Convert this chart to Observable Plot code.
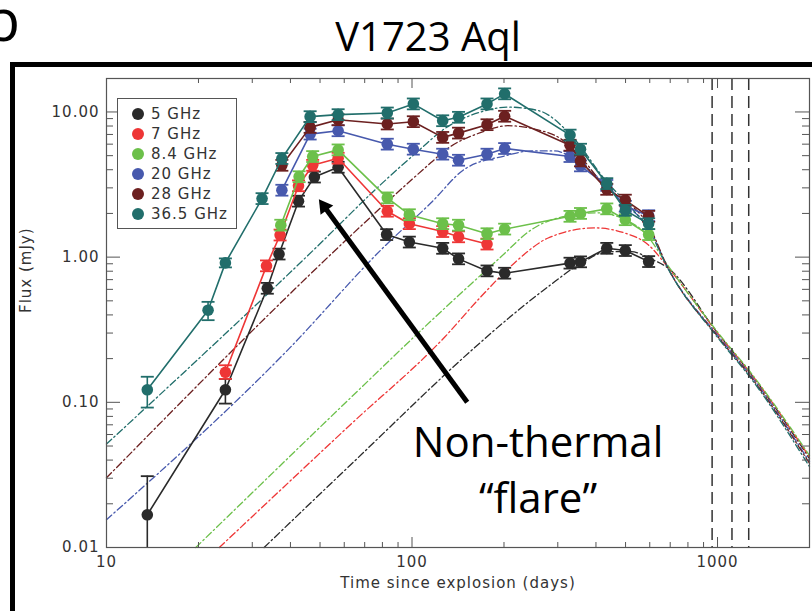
<!DOCTYPE html>
<html>
<head>
<meta charset="utf-8">
<script src="https://cdn.jsdelivr.net/npm/d3@7"></script>
<script src="https://cdn.jsdelivr.net/npm/@observablehq/plot@0.6"></script>
<style>
html, body { margin: 0; padding: 0; background: #fff; width: 812px; height: 611px; overflow: hidden; }
#wrap { position: relative; width: 812px; height: 611px; overflow: hidden; }
#slide { position: absolute; left: 10px; top: 62px; width: 900px; height: 700px; border-left: 5px solid #000; border-top: 5px solid #000; }
#chart { position: absolute; left: 0; top: 0; }
#title { position: absolute; left: 228px; top: 16px; width: 400px; text-align: center; font-family: 'Open Sans', sans-serif; font-size: 40px; line-height: 40px; color: #000; }
#panel { position: absolute; left: -16px; top: -11px; font-family: 'Open Sans', sans-serif; font-size: 59px; line-height: 59px; color: #000; }
#note { position: absolute; left: 388px; top: 413px; width: 300px; text-align: center; font-family: 'Open Sans', sans-serif; font-size: 42px; line-height: 56px; color: #000; }
#legend { position: absolute; left: 117px; top: 98px; width: 118px; height: 129px; border: 1px solid #555; background: #fff; font-family: 'DejaVu Sans', sans-serif; font-size: 15px; letter-spacing: 1px; color: #333; }
.lrow { position: absolute; left: 0; height: 20px; width: 118px; }
.ldot { position: absolute; left: 14px; top: 4px; width: 12px; height: 12px; border-radius: 50%; }
.ltxt { position: absolute; left: 33px; top: 0; line-height: 20px; }
</style>
</head>
<body>
<div id="wrap">
  <div id="panel">b</div>
  <div id="slide"></div>
  <div id="chart"></div>
  <div id="title">V1723 Aql</div>
  <div id="legend"></div>
  <div id="note">Non-thermal<br>“flare”</div>
</div>
<script>
// ---- categories and colours ----
const frequencies = ["5 GHz", "7 GHz", "8.4 GHz", "20 GHz", "28 GHz", "36.5 GHz"];
const colors = ["#2a2a2a", "#ee3636", "#6cc04a", "#4759ad", "#6c2020", "#216e6b"];

// ---- measured fluxes (days, mJy) ----
const t5  = [13.6, 24.5, 33.6, 36.7, 42.5, 47.9, 57.3, 82.6, 98, 126, 142, 176, 201, 329, 356, 434, 499, 595];
const f5  = [0.0168, 0.122, 0.610, 1.05, 2.43, 3.56, 4.16, 1.43, 1.27, 1.15, 0.973, 0.804, 0.775, 0.909, 0.928, 1.15, 1.11, 0.932];
const t7  = [24.5, 33.4, 37.0, 42.5, 47.3, 57.3, 83, 98, 126, 142, 176];
const f7  = [0.161, 0.871, 1.42, 3.10, 4.29, 4.80, 2.07, 1.70, 1.50, 1.38, 1.23];
const t8  = [37.2, 42.7, 47.3, 57.3, 83, 98, 126, 142, 176, 201, 329, 356, 434, 499, 595];
const f8  = [1.66, 3.58, 4.93, 5.48, 2.56, 1.96, 1.70, 1.66, 1.45, 1.56, 1.91, 2.00, 2.15, 1.81, 1.43];
const t20 = [37.5, 46.4, 57.3, 83, 101, 126, 142, 176, 201, 329, 356, 434, 499, 595];
const f20 = [2.89, 7.04, 7.42, 6.00, 5.54, 5.12, 4.65, 5.12, 5.60, 4.93, 4.25, 3.12, 2.24, 1.93];
const t28 = [37.5, 46.4, 57.3, 83, 101, 126, 142, 176, 201, 329, 356, 434, 499, 595];
const f28 = [4.29, 7.83, 8.84, 8.26, 8.57, 6.68, 7.15, 8.17, 9.34, 5.90, 4.60, 2.93, 2.47, 1.91];
const t36 = [13.6, 21.5, 24.5, 32.3, 37.5, 46.4, 57.3, 83, 101, 126, 142, 176, 201, 329, 356, 434, 499, 595];
const f36 = [0.122, 0.431, 0.913, 2.53, 4.78, 9.28, 9.58, 9.84, 11.36, 8.70, 9.19, 11.36, 13.33, 6.93, 5.54, 3.21, 2.10, 1.70];

// ---- large error bars (others are small) ----
const bigErrFreq = ["36.5 GHz", "36.5 GHz", "36.5 GHz", "7 GHz", "5 GHz", "5 GHz"];
const bigErrT    = [13.6, 21.5, 24.5, 24.5, 24.5, 13.6];
const bigErrLo   = [0.092, 0.368, 0.85, 0.145, 0.098, 0.01];
const bigErrHi   = [0.150, 0.492, 0.98, 0.180, 0.145, 0.031];
const smallErr = 1.09;

// ---- thermal model curves (dash-dot) ----
const modelT5  = [32.8, 63.1, 168, 216, 279, 358, 438, 522, 600, 689, 1000, 1300, 2000];
const modelF5  = [0.01, 0.0373, 0.260, 0.409, 0.626, 0.909, 1.09, 1.09, 0.98, 0.84, 0.30, 0.152, 0.041];
const modelT7  = [23.4, 63.1, 128, 168, 216, 279, 396, 497, 593, 689, 1000, 1300, 2000];
const modelF7  = [0.01, 0.0707, 0.282, 0.533, 0.909, 1.355, 1.59, 1.466, 1.217, 0.85, 0.30, 0.153, 0.042];
const modelT8  = [19.6, 63.1, 107, 196, 246, 316, 406, 484, 578, 689, 1000, 1300, 2000];
const modelF8  = [0.01, 0.108, 0.313, 1.01, 1.546, 1.91, 2.02, 1.86, 1.47, 0.87, 0.305, 0.155, 0.043];
const modelT20 = [10, 39.1, 81.2, 115.4, 148.5, 201, 246, 293, 330, 434, 499, 595, 689, 1000, 1300, 2000];
const modelF20 = [0.01553, 0.228, 1.184, 2.367, 4.03, 4.98, 5.39, 5.39, 4.95, 3.1, 2.3, 1.6, 0.84, 0.29, 0.148, 0.039];
const modelT28 = [10, 115.4, 127.6, 168.3, 206, 252, 308, 356, 434, 520, 595, 689, 1000, 1300, 2000];
const modelF28 = [0.0302, 4.48, 5.39, 7.23, 8.04, 7.62, 6.50, 4.9, 3.0, 2.3, 1.65, 0.84, 0.285, 0.145, 0.038];
const modelT36 = [10, 47.7, 79.1, 107, 126, 168, 206, 260, 330, 434, 520, 595, 689, 1000, 1300, 2000];
const modelF36 = [0.0516, 1.124, 3.17, 5.6, 7.5, 10.0, 10.8, 10.2, 7.0, 3.3, 2.2, 1.55, 0.83, 0.28, 0.142, 0.036];

// ---- observation epochs (vertical dashed lines) ----
const epochs = [960, 1115, 1265];

// ---- annotation arrow (days, mJy) ----
const arrowTail = [151.6, 0.100];
const arrowHead = [51.6, 2.234];

// ---- ticks ----
const xMajor = [10, 100, 1000];
const xMinor = [20, 30, 40, 50, 60, 70, 80, 90, 200, 300, 400, 500, 600, 700, 800, 900];
const yMajor = [0.01, 0.1, 1, 10];
const yMinor = [0.02, 0.03, 0.04, 0.05, 0.06, 0.07, 0.08, 0.09, 0.2, 0.3, 0.4, 0.5, 0.6, 0.7, 0.8, 0.9, 2, 3, 4, 5, 6, 7, 8, 9];

// ---- build tables ----
const obsT = [t5, t7, t8, t20, t28, t36];
const obsF = [f5, f7, f8, f20, f28, f36];
const modT = [modelT5, modelT7, modelT8, modelT20, modelT28, modelT36];
const modF = [modelF5, modelF7, modelF8, modelF20, modelF28, modelF36];

const W = 812, H = 611, ML = 106, MR = 3, MT = 78, MB = 64;
const FW = W - ML - MR, FH = H - MT - MB;

const capSymbol = { draw(ctx) { ctx.moveTo(-6.5, 0); ctx.lineTo(6.5, 0); } };

const marks = [];
// model curves first
frequencies.forEach((name, k) => {
  const rows = modT[k].map((t, i) => ({ t, f: modF[k][i] }));
  marks.push(Plot.line(rows, { x: "t", y: "f", stroke: colors[k], strokeWidth: 1.3, strokeDasharray: "7,3,1.5,3", curve: "monotone-x" }));
});
// epochs
marks.push(Plot.ruleX(epochs, { x: d => d, stroke: "#333", strokeWidth: 1.5, strokeDasharray: "12,6" }));
// data
frequencies.forEach((name, k) => {
  const rows = obsT[k].map((t, i) => {
    let lo = obsF[k][i] / smallErr, hi = obsF[k][i] * smallErr;
    bigErrFreq.forEach((fq, j) => { if (fq === name && bigErrT[j] === t) { lo = bigErrLo[j]; hi = bigErrHi[j]; } });
    return { t, f: obsF[k][i], lo, hi };
  });
  marks.push(Plot.line(rows, { x: "t", y: "f", stroke: colors[k], strokeWidth: 1.6 }));
  marks.push(Plot.ruleX(rows, { x: "t", y1: "lo", y2: "hi", stroke: colors[k], strokeWidth: 1.6 }));
  marks.push(Plot.dot(rows.filter(d => d.lo > 0.0101), { x: "t", y: "lo", symbol: capSymbol, r: 6, stroke: colors[k], fill: "none", strokeWidth: 1.8 }));
  marks.push(Plot.dot(rows, { x: "t", y: "hi", symbol: capSymbol, r: 6, stroke: colors[k], fill: "none", strokeWidth: 1.8 }));
  marks.push(Plot.dot(rows, { x: "t", y: "f", r: 5.8, fill: colors[k], stroke: "none" }));
});

// frame and inward ticks
marks.push(Plot.frame({ stroke: "#555", strokeWidth: 1.2 }));
const tk = { stroke: "#555", strokeWidth: 1 };
marks.push(Plot.tickX(xMajor, { x: d => d, insetTop: FH - 10, ...tk }));
marks.push(Plot.tickX(xMajor, { x: d => d, insetBottom: FH - 10, ...tk }));
marks.push(Plot.tickX(xMinor, { x: d => d, insetTop: FH - 5, ...tk }));
marks.push(Plot.tickX(xMinor, { x: d => d, insetBottom: FH - 5, ...tk }));
marks.push(Plot.tickY(yMajor, { y: d => d, insetRight: FW - 14, ...tk }));
marks.push(Plot.tickY(yMajor, { y: d => d, insetLeft: FW - 14, ...tk }));
marks.push(Plot.tickY(yMinor, { y: d => d, insetRight: FW - 7, ...tk }));
marks.push(Plot.tickY(yMinor, { y: d => d, insetLeft: FW - 7, ...tk }));

// axes
marks.push(Plot.axisX(xMajor, { anchor: "bottom", tickSize: 0, tickPadding: 9, tickFormat: d => String(d), label: null, fill: "#333" }));
marks.push(Plot.axisY(yMajor, { anchor: "left", tickSize: 0, tickPadding: 7, tickFormat: d => d.toFixed(2), label: null, fill: "#333" }));
marks.push(Plot.text(["Time since explosion (days)"], { frameAnchor: "bottom", dy: 40, text: d => d, fill: "#333" }));
marks.push(Plot.text(["Flux (mJy)"], { frameAnchor: "left", dx: -80, rotate: -90, text: d => d, fill: "#333" }));

// annotation arrow
marks.push(Plot.link([{ x1: arrowTail[0], y1: arrowTail[1], x2: arrowHead[0], y2: arrowHead[1] }], { x1: "x1", y1: "y1", x2: "x2", y2: "y2", stroke: "#000", strokeWidth: 5 }));
marks.push(Plot.dot([{ x: arrowHead[0], y: arrowHead[1] }], { x: "x", y: "y", symbol: "triangle2", r: 7.5, fill: "#000", stroke: "none", rotate: -36.2 }));

const plot = Plot.plot({
  width: W, height: H,
  marginLeft: ML, marginRight: MR, marginTop: MT, marginBottom: MB,
  style: { fontFamily: "'DejaVu Sans', sans-serif", fontSize: "15px", letterSpacing: "1px", color: "#333", background: "transparent", overflow: "visible" },
  x: { type: "log", domain: [10, 2000], axis: null },
  y: { type: "log", domain: [0.01, 17], axis: null },
  marks
});
document.getElementById("chart").appendChild(plot);

// legend
const legend = document.getElementById("legend");
frequencies.forEach((name, k) => {
  const row = document.createElement("div");
  row.className = "lrow";
  row.style.top = (5 + k * 20) + "px";
  row.innerHTML = `<span class="ldot" style="background:${colors[k]}"></span><span class="ltxt">${name}</span>`;
  legend.appendChild(row);
});
</script>
</body>
</html>
